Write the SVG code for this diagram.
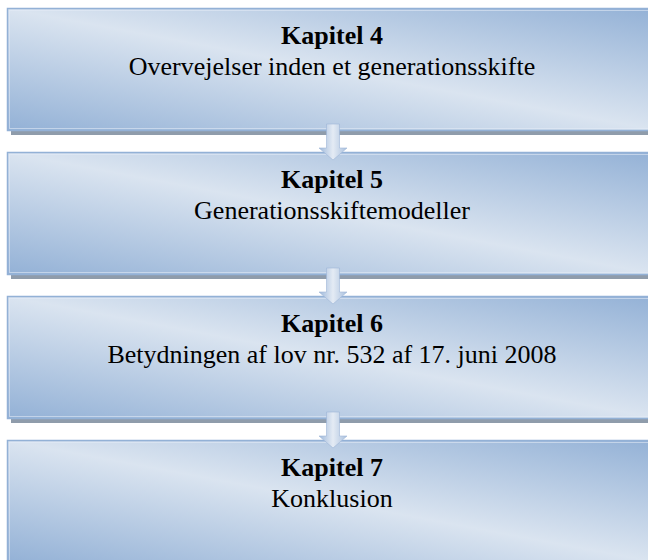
<svg xmlns="http://www.w3.org/2000/svg" width="648" height="560" viewBox="0 0 648 560">
<defs>
<linearGradient id="boxg" x1="1" y1="0" x2="0" y2="1">
<stop offset="0" stop-color="#93b1d6"/>
<stop offset="0.5" stop-color="#dae4f0"/>
<stop offset="1" stop-color="#93b1d6"/>
</linearGradient>
<linearGradient id="arrg" x1="0" y1="0" x2="1" y2="0">
<stop offset="0" stop-color="#9fb9db"/>
<stop offset="0.5" stop-color="#e4ebf4"/>
<stop offset="1" stop-color="#a9c0de"/>
</linearGradient>
<style>
.shadow{fill:#8f9cab}
.box{fill:url(#boxg);stroke:#93b1d6;stroke-width:1.5}
.inner{fill:none;stroke:#e6edf6;stroke-width:0.8;opacity:0.7}
.t1{font-family:"Liberation Serif","Times New Roman",serif;font-size:26px;font-weight:bold;fill:#000;text-anchor:middle}
.t2{font-family:"Liberation Serif","Times New Roman",serif;font-size:26px;fill:#000;text-anchor:middle}
.arr{fill:url(#arrg);stroke:#9db6d6;stroke-width:0.6}
</style>
</defs>
<g id="node4">
<rect class="shadow" x="11" y="12" width="645" height="123"/>
<rect class="box" x="7.5" y="8.5" width="650" height="122"/>
<rect class="inner" x="9.5" y="10.5" width="646" height="118"/>
<text class="t1" x="332" y="44">Kapitel 4</text>
<text class="t2" x="332" y="75">Overvejelser inden et generationsskifte</text>
</g>
<g id="node5">
<rect class="shadow" x="11" y="156" width="645" height="123"/>
<rect class="box" x="7.5" y="152.5" width="650" height="122"/>
<rect class="inner" x="9.5" y="154.5" width="646" height="118"/>
<text class="t1" x="332" y="188">Kapitel 5</text>
<text class="t2" x="332" y="219">Generationsskiftemodeller</text>
</g>
<g id="node6">
<rect class="shadow" x="11" y="300" width="645" height="123"/>
<rect class="box" x="7.5" y="296.5" width="650" height="122"/>
<rect class="inner" x="9.5" y="298.5" width="646" height="118"/>
<text class="t1" x="332" y="332">Kapitel 6</text>
<text class="t2" x="332" y="363">Betydningen af lov nr. 532 af 17. juni 2008</text>
</g>
<g id="node7">
<rect class="shadow" x="11" y="444" width="645" height="123"/>
<rect class="box" x="7.5" y="440.5" width="650" height="122"/>
<rect class="inner" x="9.5" y="442.5" width="646" height="118"/>
<text class="t1" x="332" y="476">Kapitel 7</text>
<text class="t2" x="332" y="507">Konklusion</text>
</g>
<g id="connectors">
<path class="arr" d="M326.5,124 H339.5 V148 H347 L333,160 L319,148 H326.5 Z"/>
<path class="arr" d="M326.5,268 H339.5 V292 H347 L333,304 L319,292 H326.5 Z"/>
<path class="arr" d="M326.5,412 H339.5 V436 H347 L333,448 L319,436 H326.5 Z"/>
</g>
</svg>
